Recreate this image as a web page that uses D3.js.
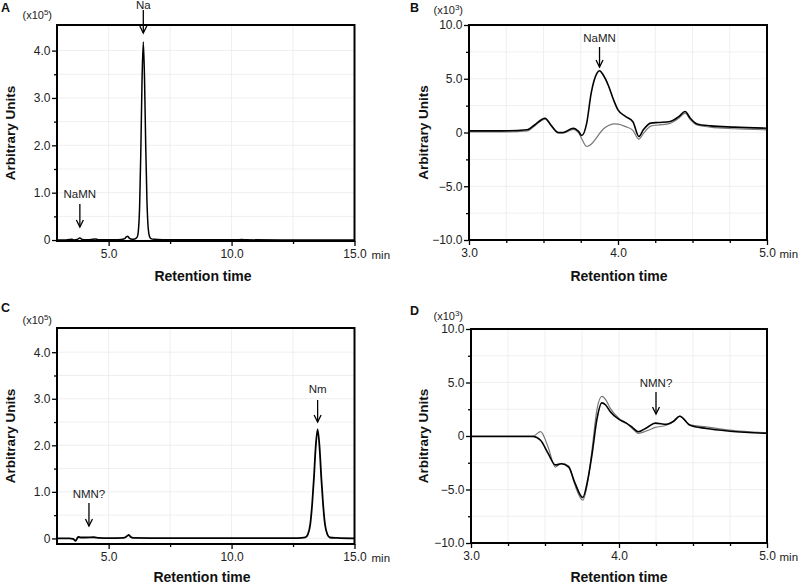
<!DOCTYPE html>
<html><head><meta charset="utf-8">
<script src="https://cdn.jsdelivr.net/npm/d3@7"></script>
<style>
body{margin:0;background:#fff;}
svg{display:block;font-family:"Liberation Sans",Arial,sans-serif;}
</style></head>
<body><svg id="chart" width="800" height="584"></svg>
<script>
// ---------------- DATA ----------------
// Panel A (x10^5)
const aTime   = [2.9,3.2,3.4,3.5,3.6,3.72,3.83,3.93,4.1,4.3,4.44,4.58,4.8,5.2,5.5,5.65,5.72,5.77,5.84,5.95,6.06,6.16,6.21,6.26,6.31,6.36,6.41,6.46,6.51,6.56,6.61,6.66,6.72,6.85,7.2,8.5,10.2,10.4,10.6,12.0,15.0];
const aSignal = [0.0,0.0,0.01,0.015,0.0,0.01,0.045,0.012,0.005,0.012,0.022,0.008,0.004,0.005,0.01,0.03,0.065,0.08,0.04,0.015,0.02,0.06,0.2,0.7,1.9,3.4,4.18,3.4,1.95,0.8,0.25,0.08,0.03,0.015,0.008,0.005,0.005,0.012,0.005,0.0,0.0];

// Panel B (x10^3)
const bTime   = [3.0,3.21,3.39,3.44,3.51,3.555,3.6,3.63,3.7,3.735,3.757,3.79,3.82,3.858,3.876,3.9,3.936,3.97,4.0,4.05,4.1,4.14,4.17,4.22,4.27,4.35,4.41,4.45,4.485,4.53,4.62,4.78,5.0];
const bBlack  = [0.15,0.15,0.25,0.7,1.33,0.6,0.0,0.0,0.4,0.1,-0.28,0.87,3.66,5.5,5.75,5.37,4.35,3.04,2.1,1.5,1.0,-0.37,0.25,0.87,0.93,1.02,1.5,1.95,1.33,0.8,0.62,0.5,0.4];
const bGray   = [0.05,0.05,0.15,0.6,1.25,0.55,-0.05,-0.05,0.3,0.0,-0.6,-1.3,-1.1,-0.45,-0.1,0.3,0.65,0.8,0.78,0.55,0.2,-0.62,-0.1,0.6,0.7,0.85,1.35,1.8,1.2,0.7,0.5,0.35,0.25];

// Panel C (x10^5)
const cTime   = [2.9,3.4,3.55,3.66,3.72,3.77,3.85,4.05,4.4,4.6,5.0,5.6,5.75,5.82,5.9,6.0,7.0,10.5,12.7,13.0,13.1,13.2,13.28,13.35,13.42,13.5,13.58,13.65,13.72,13.8,13.9,14.0,14.3,15.0];
const cSignal = [0.0,0.0,-0.01,-0.05,0.0,0.035,0.02,0.02,0.025,0.01,0.005,0.01,0.05,0.075,0.03,0.01,0.005,0.005,0.005,0.02,0.08,0.3,0.75,1.3,1.95,2.34,1.95,1.3,0.75,0.3,0.08,0.02,0.01,0.0];

// Panel D (x10^3)
const dTime   = [3.0,3.3,3.42,3.47,3.52,3.57,3.61,3.66,3.7,3.755,3.79,3.82,3.85,3.884,3.91,3.94,4.0,4.05,4.09,4.13,4.19,4.245,4.32,4.37,4.41,4.48,4.59,4.75,5.0];
const dBlack  = [-0.05,-0.05,-0.05,-0.4,-1.6,-2.7,-2.6,-2.9,-4.3,-5.75,-4.0,-1.5,1.5,3.1,2.9,2.3,1.55,1.2,0.8,0.4,0.8,1.2,1.1,1.4,1.85,1.0,0.7,0.45,0.25];
const dGray   = [0.0,0.0,0.0,0.4,-1.0,-2.9,-2.55,-2.8,-4.5,-6.0,-4.2,-1.0,2.4,3.7,3.4,2.6,1.65,1.2,0.7,0.25,0.5,0.8,1.0,1.35,1.85,1.05,0.85,0.55,0.3];

// Tick values
const xTicksLong  = [5, 10, 15];
const xMinorLong  = [7.5, 12.5];
const yTicksLarge = [0, 1, 2, 3, 4];
const yMinorLarge = [0.5, 1.5, 2.5, 3.5];
const xTicksShort = [3, 4, 5];
const xMinorShort = [3.25, 3.5, 3.75, 4.25, 4.5, 4.75];
const yTicksSmall = [-10, -5, 0, 5, 10];
const yMinorSmall = [-7.5, -2.5, 2.5, 7.5];

// ---------------- DRAW ----------------
const svg = d3.select("#chart");
const fmtX = d3.format(".1f");
const fmtY = v => v === 0 ? "0" : d3.format(".1f")(v);

function zip(t, v){ return t.map((d,i)=>[d, v[i]]); }

function panel(cfg){
  const g = svg.append("g");
  const x = d3.scaleLinear().domain(cfg.xDomain).range([cfg.x0, cfg.x1]);
  const y = d3.scaleLinear().domain(cfg.yDomain).range([cfg.y1, cfg.y0]);
  const clipId = "clip" + cfg.letter;
  svg.append("clipPath").attr("id", clipId).append("rect")
    .attr("x", cfg.x0).attr("y", cfg.y0).attr("width", cfg.x1-cfg.x0).attr("height", cfg.y1-cfg.y0);

  // grid
  const gx = cfg.xTicks.concat(cfg.xMinor).filter(v=>v>cfg.xDomain[0]+1e-6 && v<cfg.xDomain[1]-1e-6);
  const gy = cfg.yTicks.concat(cfg.yMinor).filter(v=>v>cfg.yDomain[0]+1e-6 && v<cfg.yDomain[1]-1e-6);
  g.append("g").selectAll("line").data(gx).join("line")
    .attr("x1", d=>x(d)).attr("x2", d=>x(d)).attr("y1", cfg.y0).attr("y2", cfg.y1)
    .attr("stroke", "#ebebeb").attr("stroke-width", 0.8);
  g.append("g").selectAll("line").data(gy).join("line")
    .attr("y1", d=>y(d)).attr("y2", d=>y(d)).attr("x1", cfg.x0).attr("x2", cfg.x1)
    .attr("stroke", "#ebebeb").attr("stroke-width", 0.8);

  // axes
  const styleAxis = sel => {
    sel.select(".domain").remove();
    sel.selectAll(".tick line").attr("stroke", "#000").attr("stroke-width", 1.3);
    sel.selectAll(".tick text").attr("fill", "#222").style("font-size", "12px")
      .style("font-family", '"Liberation Sans",Arial,sans-serif');
  };
  g.append("g").attr("transform", `translate(0,${cfg.y1})`)
    .call(d3.axisBottom(x).tickValues(cfg.xTicks).tickFormat(fmtX).tickSize(5).tickPadding(3.5))
    .call(styleAxis);
  g.append("g").attr("transform", `translate(0,${cfg.y1})`)
    .call(d3.axisBottom(x).tickValues(cfg.xMinor).tickFormat("").tickSize(3))
    .call(styleAxis);
  g.append("g").attr("transform", `translate(${cfg.x0},0)`)
    .call(d3.axisLeft(y).tickValues(cfg.yTicks).tickFormat(fmtY).tickSize(5).tickPadding(1.5))
    .call(styleAxis);
  g.append("g").attr("transform", `translate(${cfg.x0},0)`)
    .call(d3.axisLeft(y).tickValues(cfg.yMinor).tickFormat("").tickSize(3))
    .call(styleAxis);

  // "min" unit
  const lastX = cfg.xTicks[cfg.xTicks.length-1];
  g.append("text").attr("x", x(lastX) + cfg.minOff).attr("y", cfg.y1 + 18)
    .style("font-size", "11.5px").attr("fill", "#222").text("min");

  // lines
  const line = d3.line().x(d=>x(d[0])).y(d=>y(d[1])).curve(d3.curveMonotoneX);
  const lg = g.append("g").attr("clip-path", `url(#${clipId})`);
  cfg.series.forEach(s => {
    lg.append("path").datum(zip(s.t, s.v)).attr("d", line)
      .attr("fill", "none").attr("stroke", s.color).attr("stroke-width", s.w)
      .attr("stroke-linejoin", "round");
  });

  // frame
  g.append("rect").attr("x", cfg.x0).attr("y", cfg.y0)
    .attr("width", cfg.x1-cfg.x0).attr("height", cfg.y1-cfg.y0)
    .attr("fill", "none").attr("stroke", "#000").attr("stroke-width", 2);

  // annotations
  cfg.notes.forEach(n => {
    const ax = x(n.t);
    g.append("text").attr("x", ax).attr("y", n.ty).attr("text-anchor", "middle")
      .style("font-size", "11.5px").attr("fill", "#222").text(n.label);
    g.append("line").attr("x1", ax).attr("x2", ax).attr("y1", n.a0).attr("y2", n.a1)
      .attr("stroke", "#000").attr("stroke-width", 1.3);
    g.append("path").attr("d", `M${ax-3.5},${n.a1-7}L${ax},${n.a1}L${ax+3.5},${n.a1-7}`)
      .attr("fill", "none").attr("stroke", "#000").attr("stroke-width", 1.3);
  });

  // axis titles
  g.append("text").attr("transform", `translate(${cfg.yTitleX},${(cfg.y0+cfg.y1)/2}) rotate(-90)`)
    .attr("text-anchor", "middle").style("font-size", "13.5px").style("font-weight", "bold")
    .attr("fill", "#111").text("Arbitrary Units");
  g.append("text").attr("x", cfg.xTitleCx).attr("y", cfg.xTitleY)
    .attr("text-anchor", "middle").style("font-size", "14px").style("font-weight", "bold")
    .attr("fill", "#111").text("Retention time");

  // exponent
  const ex = g.append("text").attr("x", cfg.expX).attr("y", cfg.expY).attr("text-anchor", "end")
    .style("font-size", "11px").attr("fill", "#222");
  ex.append("tspan").text("(x10");
  ex.append("tspan").attr("dy", -4).style("font-size", "8px").text(cfg.exp);
  ex.append("tspan").attr("dy", 4).text(")");

  // panel letter
  g.append("text").attr("x", cfg.letterX).attr("y", cfg.letterY)
    .style("font-size", "12.5px").style("font-weight", "bold").attr("fill", "#111").text(cfg.letter);
}

panel({letter:"A", letterX:1, letterY:12,
  x0:57, x1:354.5, y0:25, y1:241, xDomain:[2.9,15], yDomain:[-0.02,4.54],
  xTicks:xTicksLong, xMinor:xMinorLong, yTicks:yTicksLarge, yMinor:yMinorLarge,
  series:[{t:aTime, v:aSignal, color:"#000", w:1.5}],
  notes:[{t:6.41, label:"Na", ty:9, a0:10, a1:33},{t:3.83, label:"NaMN", ty:198, a0:204, a1:227}],
  yTitleX:14.5, xTitleCx:203, xTitleY:281, expX:52, expY:19, exp:"5", minOff:17});

panel({letter:"B", letterX:410, letterY:12,
  x0:469, x1:767, y0:25, y1:240, xDomain:[3,5], yDomain:[-10,10],
  xTicks:xTicksShort, xMinor:xMinorShort, yTicks:yTicksSmall, yMinor:yMinorSmall,
  series:[{t:bTime, v:bGray, color:"#777", w:1.2},{t:bTime, v:bBlack, color:"#000", w:1.6}],
  notes:[{t:3.876, label:"NaMN", ty:42, a0:47, a1:67}],
  yTitleX:428, xTitleCx:619, xTitleY:281, expX:463, expY:14, exp:"3", minOff:12.5});

panel({letter:"C", letterX:1, letterY:312,
  x0:57, x1:354.5, y0:328, y1:544, xDomain:[2.9,15], yDomain:[-0.12,4.52],
  xTicks:xTicksLong, xMinor:xMinorLong, yTicks:yTicksLarge, yMinor:yMinorLarge,
  series:[{t:cTime, v:cSignal, color:"#000", w:1.8}],
  notes:[{t:13.5, label:"Nm", ty:393, a0:400, a1:422},{t:4.2, label:"NMN?", ty:498, a0:503, a1:526}],
  yTitleX:14.5, xTitleCx:202, xTitleY:582, expX:52, expY:324, exp:"5", minOff:17});

panel({letter:"D", letterX:410, letterY:315,
  x0:471, x1:767, y0:329, y1:543, xDomain:[3,5], yDomain:[-10,10],
  xTicks:xTicksShort, xMinor:xMinorShort, yTicks:yTicksSmall, yMinor:yMinorSmall,
  series:[{t:dTime, v:dGray, color:"#777", w:1.2},{t:dTime, v:dBlack, color:"#000", w:1.6}],
  notes:[{t:4.25, label:"NMN?", ty:387, a0:392, a1:414}],
  yTitleX:428, xTitleCx:619, xTitleY:582, expX:463, expY:320, exp:"3", minOff:12.5});
</script>
</body></html>
